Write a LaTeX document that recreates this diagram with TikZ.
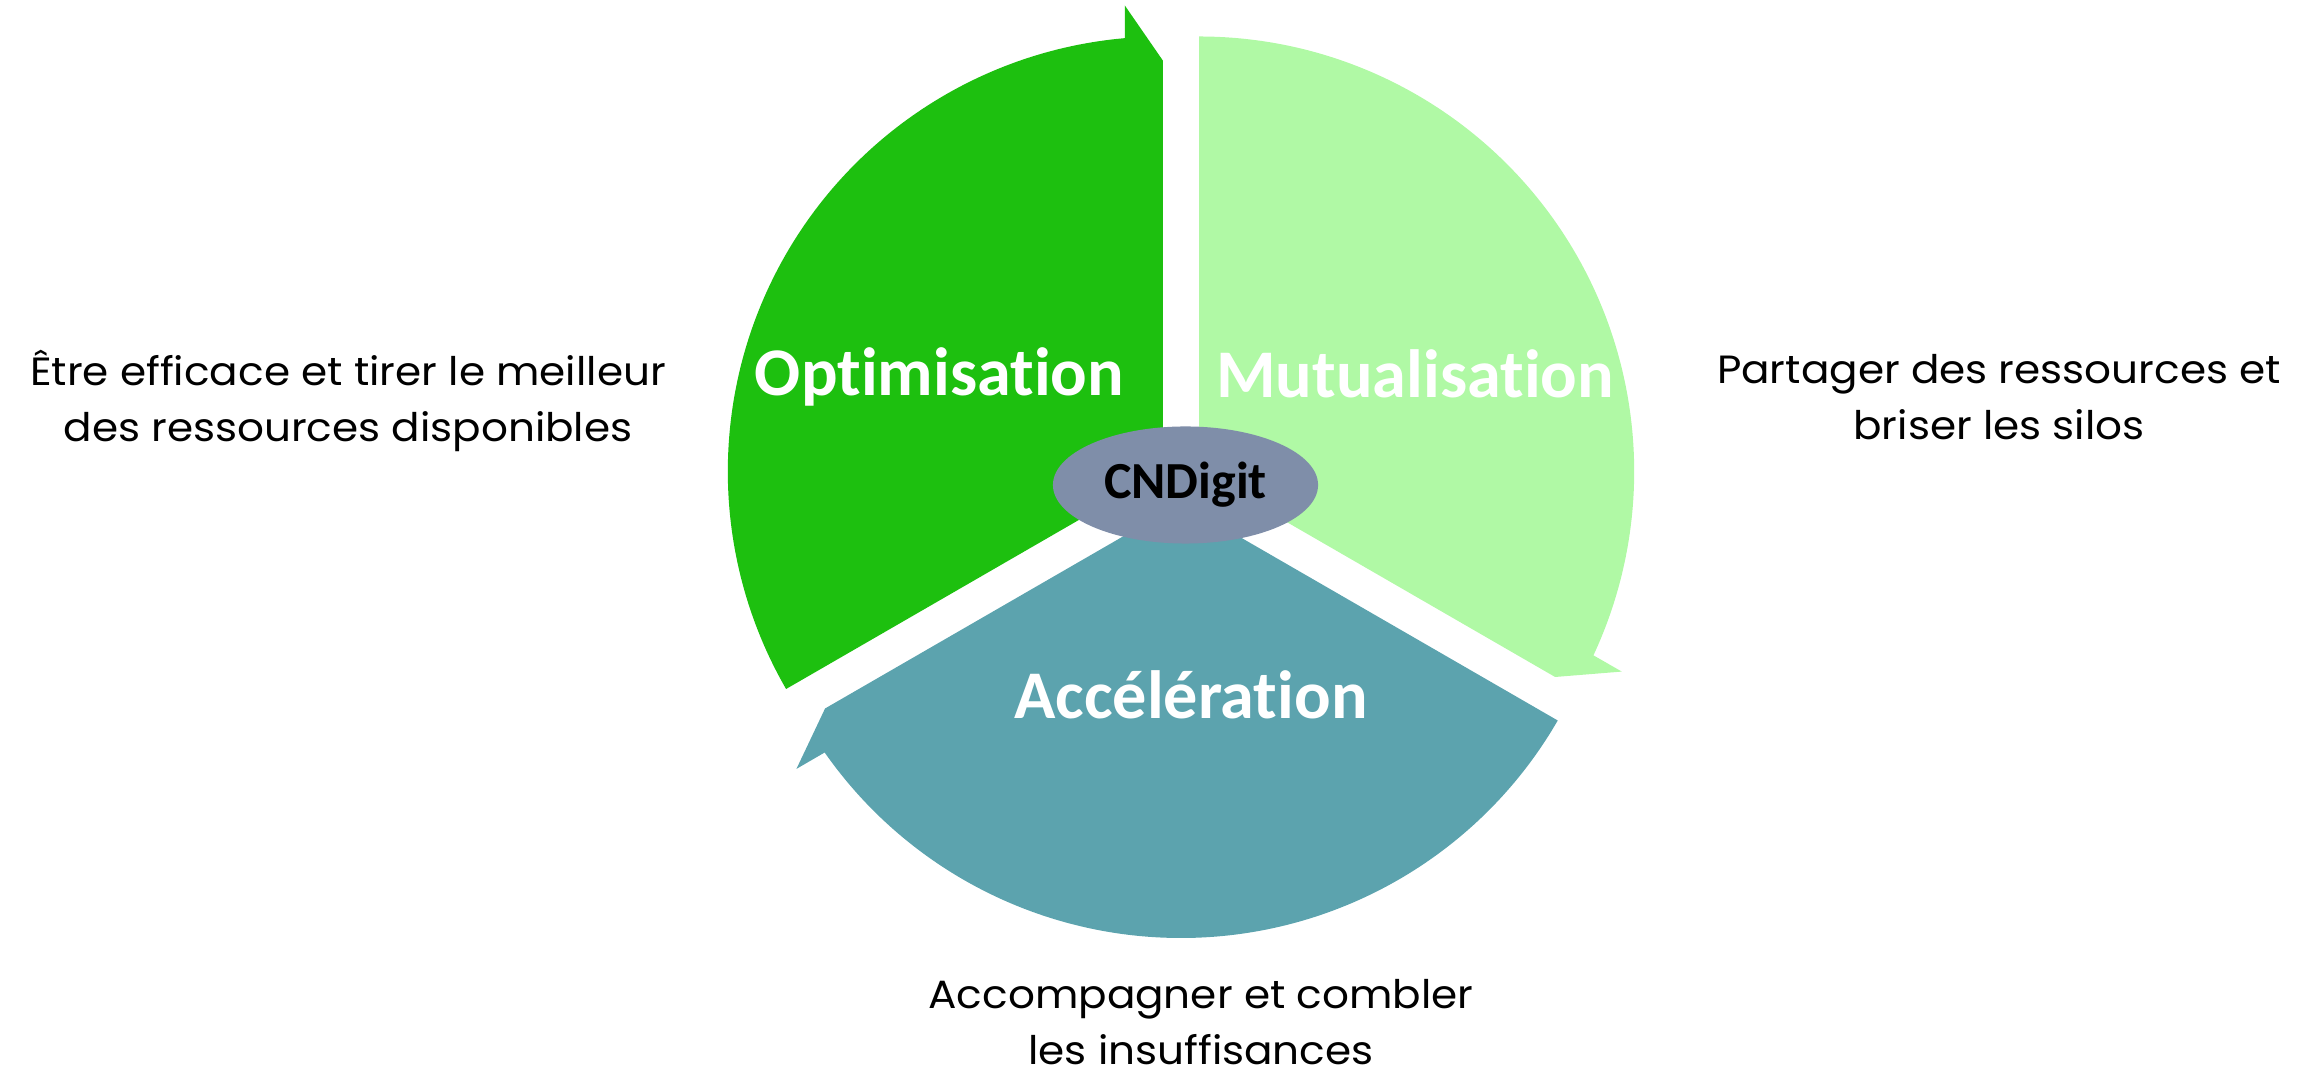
\documentclass[tikz,border=0pt]{standalone}
\usepackage{fontspec}
\setmainfont[Ligatures = NoCommon]{Carlito}
\newfontfamily\descfont[FakeStretch = 1.07]{Poppins}
\usetikzlibrary{shapes.geometric}
\definecolor{optimgreen}{HTML}{1DC00F}
\definecolor{mutugreen}{HTML}{B0F9A5}
\definecolor{accelteal}{HTML}{5CA3AE}
\definecolor{hubgrey}{HTML}{7F8EA9}

\begin{document}
\begin{tikzpicture}[x = 0.01cm, y = 0.01cm,
  seglabel/.style = {text = white, font = \fontsize{19.4}{23}\selectfont\bfseries, anchor = base, inner sep = 0},
  desctext/.style = {align = center, font = \descfont\fontsize{11.2}{16.1}\selectfont, anchor = base, inner sep = 0}]
\useasboundingbox (0,0) rectangle (2311,-1077);
\begin{scope}[shift = {(1181,-482)}]
\fill[optimgreen, rotate = 90, shift = {(60:21)}] (0,0) -- (120:435) arc[start angle = 120, end angle = 5, radius = 435] -- (466,38) -- (411,0) -- cycle;
\fill[mutugreen, rotate = -30, shift = {(60:21)}] (0,0) -- (120:435) arc[start angle = 120, end angle = 5, radius = 435] -- (466,38) -- (411,0) -- cycle;
\fill[accelteal, rotate = 210, shift = {(60:21)}] (0,0) -- (120:435) arc[start angle = 120, end angle = 5, radius = 435] -- (466,38) -- (411,0) -- cycle;
\end{scope}
\node[ellipse, fill = hubgrey, minimum width = 2.65cm, minimum height = 1.17cm, inner sep = 0, font = \fontsize{14.8}{17}\selectfont\bfseries] (cndigit) at (1185.5,-485) {CNDigit};
\node[seglabel] (optim) at (939.5,-396) {Optimisation};
\node[seglabel] (mutu) at (1415,-398) {Mutualisation};
\node[seglabel] (accel) at (1191,-719) {Accélération};
\node[desctext] (optimdesc) at (348,-441.7) {Être efficace et tirer le meilleur\\des ressources disponibles};
\node[desctext] (mutudesc) at (1999,-440) {Partager des ressources et\\briser les silos};
\node[desctext] (acceldesc) at (1201,-1065) {Accompagner et combler\\les insuffisances};
\end{tikzpicture}
\end{document}
